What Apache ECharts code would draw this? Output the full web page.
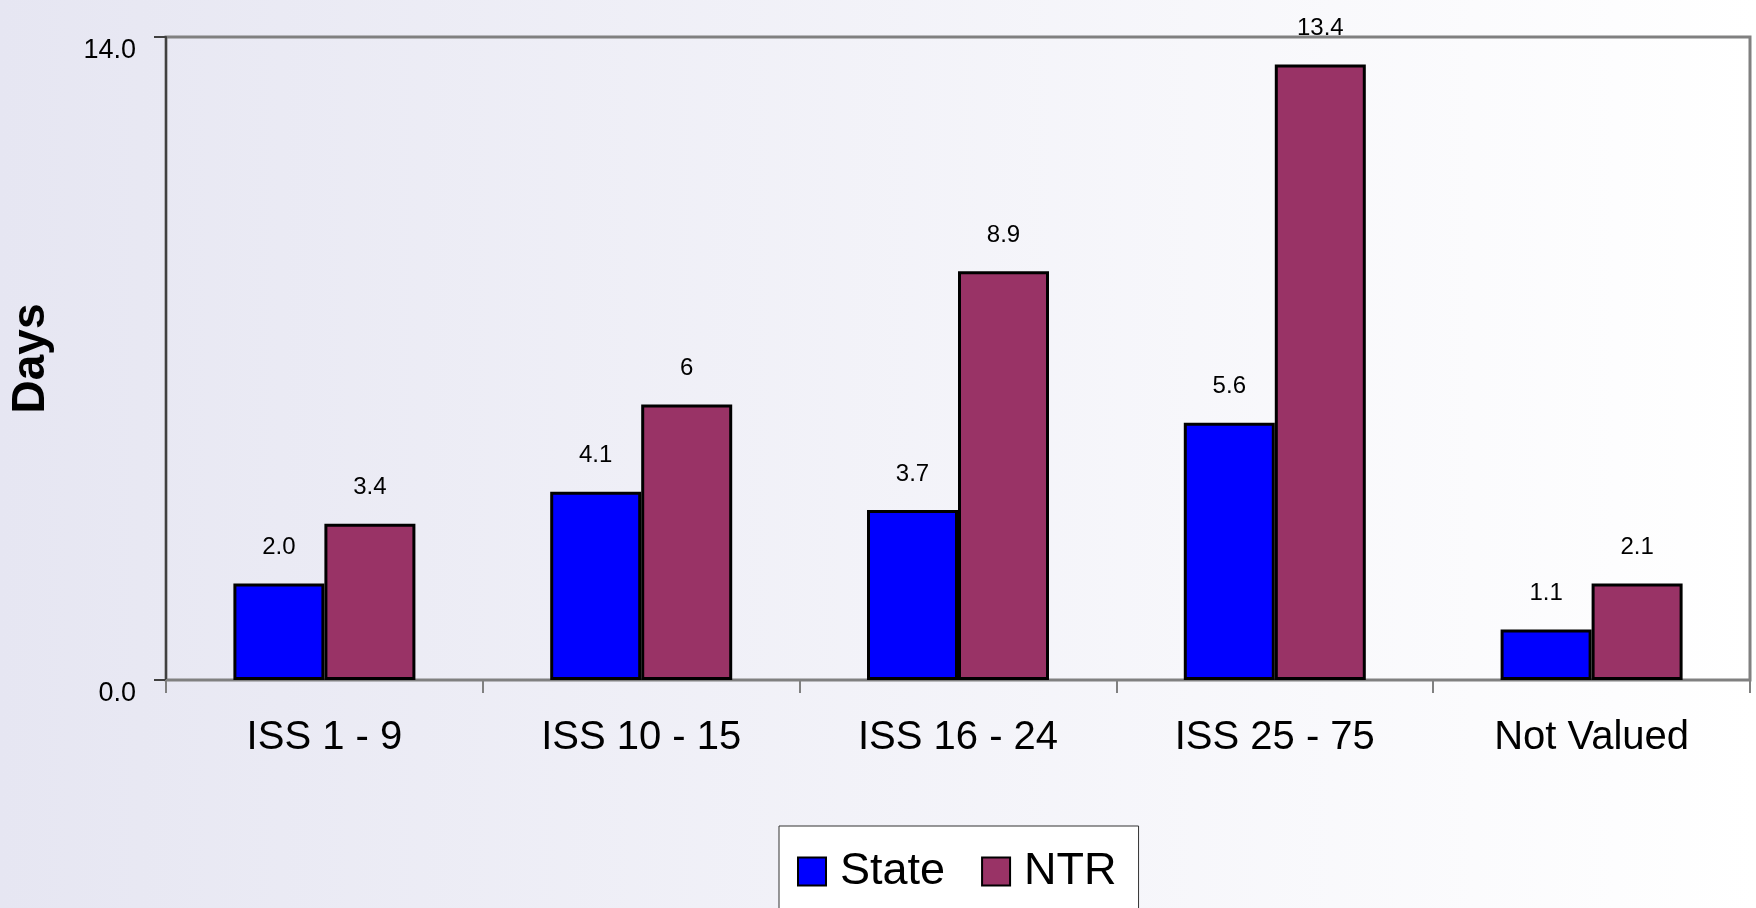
<!DOCTYPE html>
<html>
<head>
<meta charset="utf-8">
<script src="https://cdn.jsdelivr.net/npm/echarts@6/dist/echarts.min.js"></script>
<style>
  html, body { margin: 0; padding: 0; }
  #main { width: 1756px; height: 908px; }
</style>
</head>
<body>
<div id="main"></div>
<script>
// categories and values (bar heights)
var categories = ['ISS 1 - 9', 'ISS 10 - 15', 'ISS 16 - 24', 'ISS 25 - 75', 'Not Valued'];
var stateValues = [2.1, 4.1, 3.7, 5.6, 1.1];
var ntrValues = [3.4, 6.0, 8.9, 13.4, 2.1];
// labels as printed on the chart
var stateLabels = ['2.0', '4.1', '3.7', '5.6', '1.1'];
var ntrLabels = ['3.4', '6', '8.9', '13.4', '2.1'];
var yTicks = [0, 14];

var chart = echarts.init(document.getElementById('main'));

function barLabel(list) {
  return {
    show: true,
    position: 'top',
    distance: 24,
    color: '#000',
    fontSize: 24,
    fontFamily: 'Liberation Sans',
    formatter: function (p) { return list[p.dataIndex]; }
  };
}

var option = {
  backgroundColor: new echarts.graphic.LinearGradient(0, 0, 1, 0, [
    { offset: 0, color: '#e6e6f2' },
    { offset: 1, color: '#ffffff' }
  ]),
  animation: false,
  grid: {
    left: 162,
    right: 6,
    top: 37,
    bottom: 228,
    show: true,
    borderColor: '#808080',
    borderWidth: 3,
    backgroundColor: 'transparent'
  },
  legend: {
    left: 779,
    top: 826,
    data: ['State', 'NTR'],
    backgroundColor: '#ffffff',
    borderColor: '#333',
    borderWidth: 1,
    borderRadius: 0,
    padding: [23, 22, 40, 18],
    itemGap: 36,
    itemWidth: 28,
    itemHeight: 28,
    icon: 'rect',
    textStyle: {
      fontSize: 45,
      color: '#000',
      fontFamily: 'Liberation Sans',
      padding: [0, 0, 0, 9]
    }
  },
  xAxis: {
    type: 'category',
    data: categories,
    axisLine: { lineStyle: { color: '#808080', width: 2 } },
    axisTick: { show: true, length: 13, lineStyle: { color: '#808080', width: 2 } },
    axisLabel: {
      margin: 38,
      fontSize: 40,
      color: '#000',
      fontFamily: 'Liberation Sans'
    }
  },
  yAxis: {
    type: 'value',
    min: yTicks[0],
    max: yTicks[1],
    interval: yTicks[1] - yTicks[0],
    name: 'Days',
    nameLocation: 'middle',
    nameGap: 112,
    nameRotate: 90,
    nameTextStyle: {
      fontSize: 46,
      fontWeight: 'bold',
      color: '#000',
      fontFamily: 'Liberation Sans'
    },
    splitLine: { show: false },
    axisLine: { show: true, lineStyle: { color: '#404040', width: 2 } },
    axisTick: { show: true, length: 12, lineStyle: { color: '#404040', width: 2 } },
    axisLabel: {
      margin: 30,
      fontSize: 27,
      color: '#000',
      fontFamily: 'Liberation Sans',
      verticalAlign: 'top',
      formatter: function (v) { return v.toFixed(1); }
    }
  },
  series: [
    {
      name: 'State',
      type: 'bar',
      data: stateValues,
      barWidth: 91,
      barGap: '0%',
      itemStyle: { color: '#0000ff', borderColor: '#000', borderWidth: 3 },
      label: barLabel(stateLabels)
    },
    {
      name: 'NTR',
      type: 'bar',
      data: ntrValues,
      barWidth: 91,
      barGap: '0%',
      itemStyle: { color: '#993366', borderColor: '#000', borderWidth: 3 },
      label: barLabel(ntrLabels)
    }
  ]
};

chart.setOption(option);
</script>
</body>
</html>
